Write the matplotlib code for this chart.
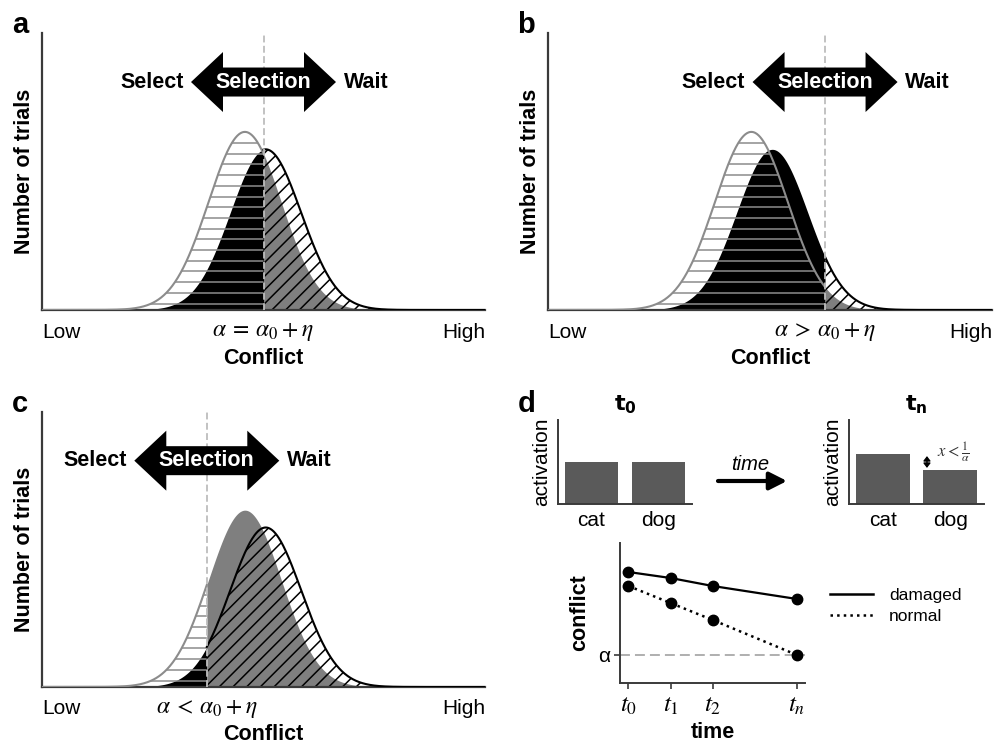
import numpy as np
import matplotlib
matplotlib.use("Agg")
import matplotlib.pyplot as plt
from matplotlib import transforms
from matplotlib.patches import Polygon, FancyArrowPatch
from matplotlib.collections import LineCollection
from matplotlib.lines import Line2D

plt.rcParams['font.family'] = ['Liberation Sans', 'DejaVu Sans']
plt.rcParams['mathtext.fontset'] = 'stix'

# panels a-c : conflict distributions (normal = gray, damaged = black)
panel_names = ['a', 'b', 'c']
thresholds = [0.50, 0.624, 0.372]
threshold_labels = [r'$\alpha\:=\:\alpha_0\:+\:\eta$',
                    r'$\alpha\:>\:\alpha_0\:+\:\eta$',
                    r'$\alpha\:<\:\alpha_0\:+\:\eta$']
normal_mean, normal_sd, normal_peak = 0.458, 0.082, 0.643
damaged_mean, damaged_sd, damaged_peak = 0.505, 0.080, 0.58

# panel d
words = ['cat', 'dog']
activation_t0 = [0.5, 0.5]
activation_tn = [0.6, 0.4]
time_labels = [r'$t_0$', r'$t_1$', r'$t_2$', r'$t_n$']
time_pos = [0, 1, 2, 4]
conflict_damaged = [11.1, 10.5, 9.7, 8.4]
conflict_normal = [9.7, 8.0, 6.3, 2.8]
alpha_level = 2.8

W, H = 998, 745
GRAY_LINE = '#8c8c8c'
GRAY_FILL = '#7f7f7f'
BAR = '#5a5a5a'
SPINE = '#3a3a3a'


def rect(x0, y0, x1, y1):
    # pixel box measured from the top-left corner -> figure fraction
    return [x0 / W, 1 - y1 / H, (x1 - x0) / W, (y1 - y0) / H]


def gauss(x, mu, sd, peak):
    return peak * np.exp(-0.5 * ((x - mu) / sd) ** 2)


def style_spines(ax, lw=1.6):
    for s in ['top', 'right']:
        ax.spines[s].set_visible(False)
    for s in ['left', 'bottom']:
        ax.spines[s].set_color(SPINE)
        ax.spines[s].set_linewidth(lw)


def hatch(ax, xs, ys, kind, color):
    """draw hatch lines by hand, clipped to the area under the curve"""
    poly = Polygon(np.column_stack([np.r_[xs[0], xs, xs[-1]], np.r_[0, ys, 0]]),
                   closed=True, transform=ax.transData)
    bb = ax.get_window_extent()
    if kind == 'h':
        step = 10.7 / bb.height
        segs = [[(0, y), (1, y)] for y in np.arange(step * 0.6, 1, step)]
    else:
        step = 13.7 / bb.width
        run = bb.height / bb.width
        segs = [[(c, 0), (c + run, 1)] for c in np.arange(-run, 1, step)]
    lc = LineCollection(segs, colors=color, linewidths=1.1, zorder=2)
    ax.add_collection(lc, autolim=False)
    lc.set_clip_path(poly)


def conflict_panel(ax, thr, label):
    x = np.sort(np.r_[np.linspace(0, 1, 800), thr])
    g = gauss(x, normal_mean, normal_sd, normal_peak)
    k = gauss(x, damaged_mean, damaged_sd, damaged_peak)
    left = x <= thr
    right = x >= thr

    ax.fill_between(x[left], k[left], color='black', lw=0, zorder=1)
    ax.fill_between(x[right], g[right], color=GRAY_FILL, lw=0, zorder=1)
    hatch(ax, x[left], g[left], 'h', GRAY_LINE)
    hatch(ax, x[right], k[right], 'd', 'black')
    ax.plot(x[left], g[left], color=GRAY_LINE, lw=1.5, zorder=3)
    ax.plot(x[right], k[right], color='black', lw=1.5, zorder=3)
    ax.axvline(thr, color='#bdbdbd', lw=1.3, dashes=(3.8, 1.9), zorder=4)

    ax.set_xlim(0, 1)
    ax.set_ylim(0, 1)
    ax.set_xticks([])
    ax.set_yticks([])
    style_spines(ax)

    # double headed "Selection" arrow, centred on the threshold
    anchor = transforms.blended_transform_factory(ax.transData, ax.transAxes)
    arrow_tr = fig.dpi_scale_trans + transforms.ScaledTranslation(thr, 0.823, anchor)
    L, hl, hh, bh = 0.725, 0.32, 0.30, 0.145
    verts = [(-L, 0), (-L + hl, hh), (-L + hl, bh), (L - hl, bh), (L - hl, hh), (L, 0),
             (L - hl, -hh), (L - hl, -bh), (-L + hl, -bh), (-L + hl, -hh)]
    ax.add_artist(Polygon(verts, closed=True, transform=arrow_tr, facecolor='black',
                          edgecolor='none', zorder=5, clip_on=False))
    ax.annotate('Selection', xy=(thr, 0.823), xycoords=anchor, ha='center', va='center',
                color='white', fontsize=15.5, fontweight='bold', zorder=6)
    ax.annotate('Select', xy=(thr, 0.823), xycoords=anchor, xytext=(-80, 0),
                textcoords='offset pixels', ha='right', va='center', fontsize=15.5, fontweight='bold')
    ax.annotate('Wait', xy=(thr, 0.823), xycoords=anchor, xytext=(80, 0),
                textcoords='offset pixels', ha='left', va='center', fontsize=15.5, fontweight='bold')

    # labels under / beside the axes
    ax.annotate('Low', xy=(0, 0), xycoords='axes fraction', xytext=(0, -22),
                textcoords='offset pixels', ha='left', va='center', fontsize=15)
    ax.annotate('High', xy=(1, 0), xycoords='axes fraction', xytext=(0, -22),
                textcoords='offset pixels', ha='right', va='center', fontsize=15)
    ax.annotate(label, xy=(thr, 0), xycoords=anchor, xytext=(0, -22),
                textcoords='offset pixels', ha='center', va='center', fontsize=17)
    ax.annotate('Conflict', xy=(0.5, 0), xycoords='axes fraction', xytext=(0, -48),
                textcoords='offset pixels', ha='center', va='center', fontsize=15.5, fontweight='bold')
    ax.annotate('Number of trials', xy=(0, 0.5), xycoords='axes fraction', xytext=(-17, 0),
                textcoords='offset pixels', ha='center', va='center', rotation=90,
                fontsize=15.5, fontweight='bold')


fig = plt.figure(figsize=(W / 100, H / 100), dpi=100)

dist_boxes = [rect(42, 33, 485, 310), rect(548, 33, 992, 310), rect(42, 412, 485, 687)]
for box, thr, lab in zip(dist_boxes, thresholds, threshold_labels):
    conflict_panel(fig.add_axes(box), thr, lab)

# ---- panel d : activation bars
bar_boxes = [rect(558, 420, 692, 504), rect(849, 420, 984, 504)]
bar_titles = [r'$\mathbf{t_0}$', r'$\mathbf{t_n}$']
bar_axes = []
for box, vals, title in zip(bar_boxes, [activation_t0, activation_tn], bar_titles):
    ax = fig.add_axes(box)
    ax.bar(range(len(words)), vals, width=0.8, color=BAR)
    ax.set_xlim(-0.5, 1.5)
    ax.set_ylim(0, 1)
    ax.set_xticks(range(len(words)), words)
    ax.set_yticks([])
    ax.tick_params(axis='x', length=0, labelsize=15, pad=5)
    ax.set_ylabel('activation', fontsize=15, labelpad=5)
    style_spines(ax, 1.4)
    ax.text(0.5, 1.18, title, transform=ax.transAxes, ha='center', va='center',
            fontsize=16, math_fontfamily='dejavusans')
    bar_axes.append(ax)

axn = bar_axes[1]
axn.annotate('', xy=(0.655, activation_tn[0] - 0.03), xytext=(0.655, activation_tn[1] + 0.03),
             arrowprops=dict(arrowstyle='<|-|>,head_length=0.45,head_width=0.35',
                             color='black', lw=1.0, shrinkA=0, shrinkB=0, mutation_scale=6))
axn.text(0.8, 0.62, r'$x < \frac{1}{\alpha}$', fontsize=12, color='#333333', ha='left', va='center')

fig.add_artist(FancyArrowPatch((718 / W, 1 - 481 / H), (787 / W, 1 - 481 / H),
                               transform=fig.transFigure, color='black', lw=3,
                               arrowstyle='-|>,head_length=0.75,head_width=0.38',
                               mutation_scale=14, shrinkA=0, shrinkB=0))
fig.text(750 / W, 1 - 465 / H, 'time', style='italic', fontsize=14.5, ha='center', va='center')

# ---- panel d : conflict over time
axl = fig.add_axes(rect(620, 543, 805, 683))
axl.axhline(alpha_level, color='#9a9a9a', lw=1.1, dashes=(6.5, 3.3), zorder=1)
axl.plot(time_pos, conflict_damaged, '-', color='black', lw=1.6, zorder=2)
axl.plot(time_pos, conflict_normal, ':', color='black', lw=1.8, zorder=2)
axl.plot(time_pos, conflict_damaged, 'o', color='black', ms=7.5, zorder=3, clip_on=False)
axl.plot(time_pos, conflict_normal, 'o', color='black', ms=7.5, zorder=3, clip_on=False)
axl.set_xlim(-0.2, 4.19)
axl.set_ylim(0, 14)
axl.set_xticks(time_pos, time_labels, fontsize=18)
axl.set_yticks([alpha_level], ['α'], fontsize=15)
axl.tick_params(length=4, width=1.2, color=SPINE, pad=3)
axl.set_xlabel('time', fontsize=15.5, fontweight='bold', labelpad=4)
axl.set_ylabel('conflict', fontsize=15.5, fontweight='bold', labelpad=6)
style_spines(axl, 1.4)

handles = [Line2D([], [], color='black', lw=1.8, ls='-'),
           Line2D([], [], color='black', lw=1.8, ls=':')]
axl.legend(handles, ['damaged', 'normal'], loc='upper left',
           bbox_to_anchor=(830 / W, 1 - 588 / H), bbox_transform=fig.transFigure,
           frameon=False, fontsize=12.5, handlelength=2.5, handletextpad=0.9,
           borderpad=0, borderaxespad=0, labelspacing=0.35)

# panel letters
for name, (px, py) in zip(['a', 'b', 'c', 'd'], [(12, 33), (517, 33), (12, 412), (518, 412)]):
    fig.text(px / W, 1 - py / H, name, fontsize=21, fontweight='bold', ha='left', va='baseline')

fig.savefig('out.png', dpi=100)
